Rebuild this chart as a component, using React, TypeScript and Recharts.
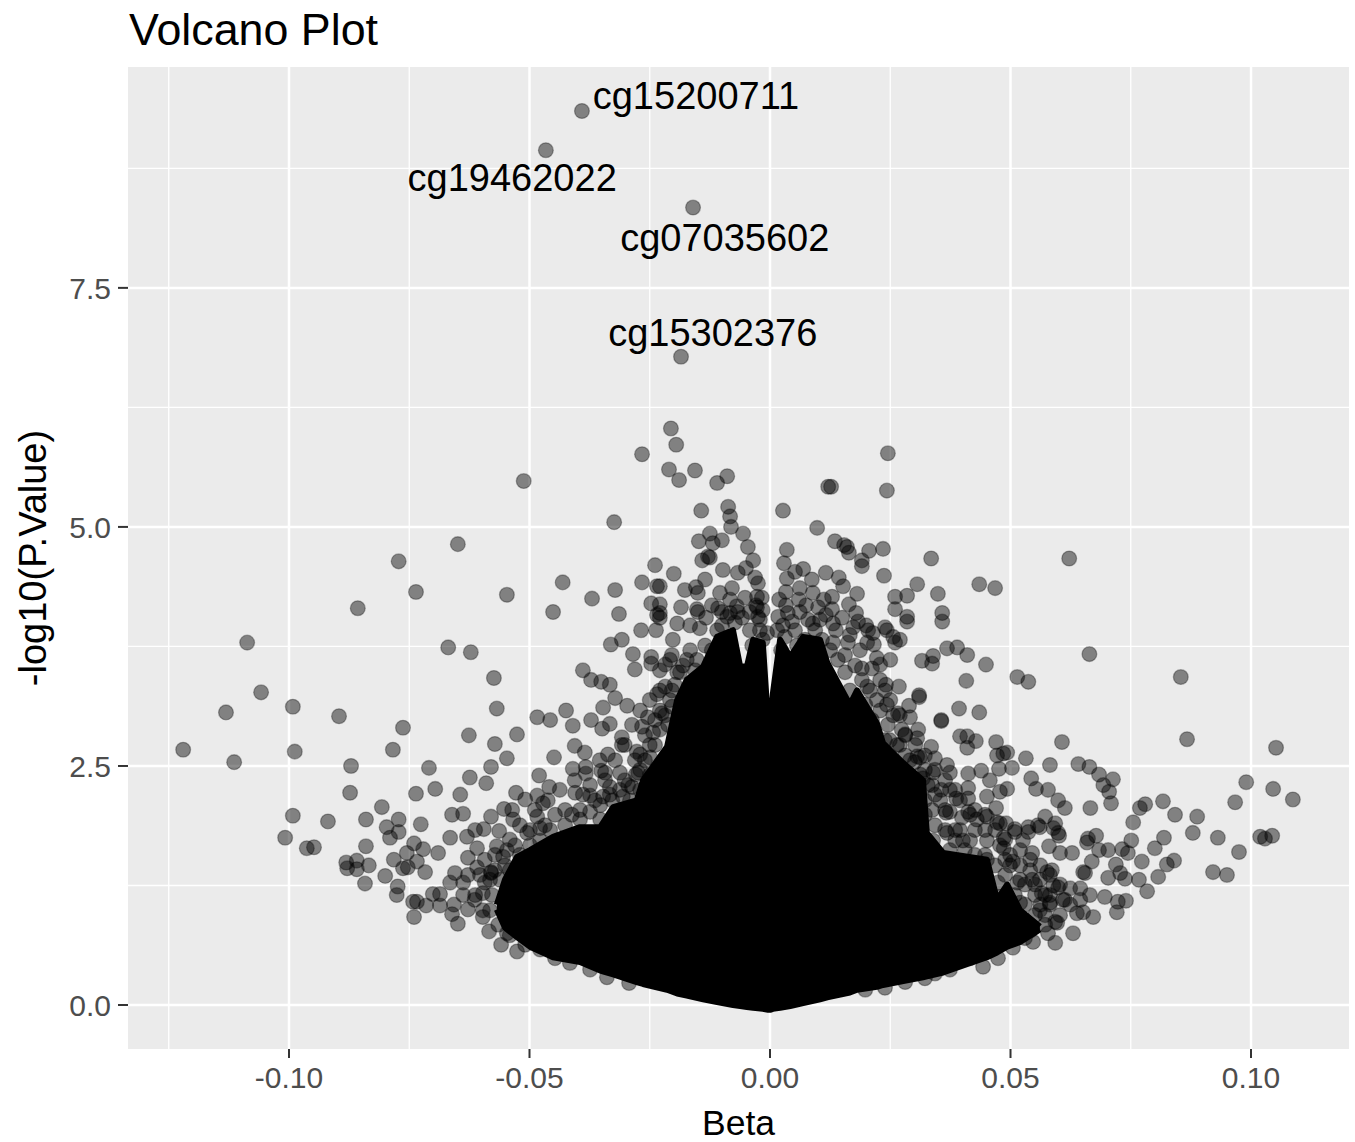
import {
  Area,
  CartesianGrid,
  ComposedChart,
  ReferenceDot,
  Scatter,
  XAxis,
  YAxis,
} from 'recharts';

const xTicks = [-0.1, -0.05, 0, 0.05, 0.1];
const yTicks = [0, 2.5, 5, 7.5];
const xMinor = [-0.125, -0.075, -0.025, 0.025, 0.075];
const yMinor = [1.25, 3.75, 6.25, 8.75];

const labelNames = ['cg15200711', 'cg19462022', 'cg07035602', 'cg15302376'];
const labelBeta = [-0.0154, -0.0536, -0.0094, -0.0119];
const labelLogP = [9.51, 8.65, 8.03, 7.03];

// solid black core where the points overlap completely: beta, lower, upper
const coreBeta = [-0.0568, -0.0551, -0.0526, -0.0499, -0.0451, -0.0395, -0.0353, -0.0326, -0.0277, -0.0264, -0.0214, -0.0193, -0.0173, -0.0139, -0.011, -0.0077, -0.0062, -0.0048, -0.0035, -0.0015, -0.0004, 0, 0.0006, 0.0021, 0.0042, 0.0069, 0.0104, 0.0119, 0.0166, 0.0181, 0.0222, 0.0235, 0.0277, 0.0318, 0.0326, 0.036, 0.0451, 0.0472, 0.0493, 0.052, 0.0561];
const coreLow = [1.0, 0.81, 0.71, 0.61, 0.5, 0.45, 0.36, 0.32, 0.24, 0.22, 0.16, 0.12, 0.1, 0.06, 0.03, 0, -0.01, -0.02, -0.03, -0.04, -0.05, -0.05, -0.04, -0.03, -0.01, 0.02, 0.06, 0.08, 0.13, 0.16, 0.19, 0.21, 0.25, 0.29, 0.3, 0.34, 0.5, 0.55, 0.61, 0.66, 0.79];
const coreHigh = [1.05, 1.31, 1.55, 1.62, 1.76, 1.86, 1.86, 2.07, 2.14, 2.35, 2.7, 3.19, 3.4, 3.54, 3.85, 3.92, 3.54, 3.54, 3.82, 3.79, 2.95, 2.88, 3.26, 3.82, 3.64, 3.85, 3.82, 3.58, 3.14, 3.29, 2.95, 2.74, 2.53, 2.35, 1.8, 1.59, 1.52, 1.1, 1.26, 0.99, 0.82];

const topPoints = [
  [-0.0391, 9.35], [-0.0466, 8.94], [-0.016, 8.34], [-0.0185, 6.78],
  [-0.0206, 6.03], [-0.0195, 5.86], [-0.0266, 5.76], [-0.021, 5.6], [-0.0189, 5.49], [-0.0156, 5.59],
  [-0.011, 5.46], [-0.0089, 5.53], [0.0245, 5.77], [0.0243, 5.38], [0.0121, 5.42], [0.0127, 5.42],
  [-0.0143, 5.17], [-0.0087, 5.21], [-0.0083, 5.11], [-0.0081, 5.0], [0.0027, 5.17], [-0.0324, 5.05],
  [0.0098, 4.99], [-0.0056, 4.93], [-0.0046, 4.79], [-0.0035, 4.65], [-0.0125, 4.93], [-0.0148, 4.85],
  [-0.0119, 4.83], [-0.01, 4.86], [-0.0141, 4.65], [-0.0125, 4.68], [-0.0129, 4.69], [0.0035, 4.76],
  [0.0029, 4.62], [0.0135, 4.85], [0.0154, 4.81], [0.016, 4.79], [0.0164, 4.73], [0.0206, 4.75],
  [0.0235, 4.77], [0.0191, 4.65], [0.0191, 4.59], [0.0237, 4.49], [0.0306, 4.4], [0.026, 4.27],
  [0.0285, 4.28], [0.026, 4.14], [0.0285, 4.06], [0.0285, 4.01], [0.0181, 4.3], [0.0164, 4.19],
  [0.0179, 4.1], [0.02, 3.97], [0.0152, 4.38], [0.0143, 4.47], [0.0116, 4.52], [0.0087, 4.45],
  [0.0069, 4.56], [0.0052, 4.53], [0.0035, 4.46], [0.0033, 4.32], [0.0089, 4.31], [0.0062, 4.36],
  [0.0112, 4.24], [0.0129, 4.27], [0.0129, 4.14], [0.006, 4.24], [0.0037, 4.1], [0.0017, 4.06],
  [0.0079, 4.03], [0.0104, 4.03], [0.0131, 3.99], [-0.02, 4.51], [-0.0229, 4.38], [-0.0177, 4.34],
  [-0.0154, 4.37], [-0.0135, 4.45], [-0.0098, 4.55], [-0.0067, 4.52], [-0.005, 4.57], [-0.0031, 4.47],
  [-0.0025, 4.41], [-0.0027, 4.27], [-0.0027, 4.16], [-0.0025, 4.06], [-0.0079, 4.36], [-0.0104, 4.31],
  [-0.015, 4.31], [-0.0152, 4.14], [-0.0185, 4.16], [-0.0229, 4.19], [-0.0229, 4.1], [-0.0229, 4.05],
  [-0.0193, 3.99], [-0.0146, 3.94], [-0.011, 3.92], [-0.0083, 4.1], [-0.0067, 4.11], [-0.0108, 4.15],
  [-0.0089, 4.06], [-0.0042, 3.92], [-0.0015, 3.82], [-0.0021, 4.03], [-0.0006, 3.89], [0.0015, 3.92],
  [0.0031, 3.85], [0.0052, 3.92], [0.0079, 3.79], [0.0131, 3.79], [0.0089, 3.99], [0.0173, 3.95],
  [0.0162, 3.79], [0.0239, 3.95], [0.0214, 3.89], [0.0202, 3.79], [0.0222, 3.63], [0.0191, 3.52],
  [0.0202, 3.33], [0.0222, 3.19], [0.0274, 2.88], [0.0312, 2.59], [0.0249, 2.77],
];

const farLeft = [
  [-0.1087, 3.79], [-0.1058, 3.27], [-0.1131, 3.06], [-0.0992, 3.12], [-0.0896, 3.02], [-0.0763, 2.9],
  [-0.0784, 2.67], [-0.122, 2.67], [-0.1114, 2.54], [-0.0988, 2.65], [-0.0871, 2.5], [-0.0873, 2.22],
  [-0.0736, 2.21], [-0.0709, 2.48], [-0.0807, 2.07], [-0.084, 1.94], [-0.0992, 1.98], [-0.0919, 1.92],
  [-0.1008, 1.75], [-0.0963, 1.64], [-0.0948, 1.65], [-0.084, 1.66], [-0.0881, 1.49], [-0.0879, 1.43],
  [-0.0859, 1.51], [-0.0859, 1.42], [-0.0834, 1.46], [-0.08, 1.35], [-0.0842, 1.27], [-0.0797, 1.86],
  [-0.0772, 1.94], [-0.079, 1.75], [-0.0772, 1.81], [-0.0726, 1.89], [-0.074, 1.69], [-0.0721, 1.63],
  [-0.0755, 1.59], [-0.0782, 1.52], [-0.0734, 1.5], [-0.0763, 1.43], [-0.0753, 1.44], [-0.0717, 1.39],
  [-0.0774, 1.24], [-0.0776, 1.15], [-0.0742, 1.08], [-0.0734, 1.08], [-0.0715, 1.04], [-0.074, 0.92],
  [-0.0649, 4.82], [-0.0736, 4.32], [-0.0772, 4.64], [-0.0857, 4.15], [-0.0512, 5.48],
];

const midLeft = [
  [-0.0547, 4.29], [-0.0431, 4.42], [-0.037, 4.25], [-0.0451, 4.11], [-0.0322, 4.34], [-0.0314, 4.09],
  [-0.0266, 4.42], [-0.0669, 3.74], [-0.0622, 3.69], [-0.0574, 3.42], [-0.0568, 3.1], [-0.0626, 2.82],
  [-0.0572, 2.73], [-0.0526, 2.83], [-0.0547, 2.58], [-0.0484, 3.01], [-0.0457, 2.98], [-0.0424, 3.08],
  [-0.0389, 3.5], [-0.0372, 3.4], [-0.0351, 3.38], [-0.0333, 3.35], [-0.0322, 3.21], [-0.0297, 3.13],
  [-0.0347, 3.11], [-0.0372, 2.98], [-0.041, 2.92], [-0.0333, 2.94], [-0.0349, 2.89], [-0.0406, 2.71],
  [-0.0449, 2.59], [-0.0385, 2.64], [-0.0337, 2.62], [-0.0308, 2.8], [-0.0266, 2.91], [-0.0277, 2.65],
  [-0.0331, 3.77], [-0.0308, 3.82], [-0.0285, 3.67], [-0.0281, 3.51], [-0.0247, 3.64], [-0.0247, 3.57],
  [-0.0268, 3.92], [-0.0237, 3.92], [-0.0247, 4.2], [-0.0235, 4.08], [-0.0239, 4.6], [-0.0235, 4.38],
  [-0.0229, 3.5], [-0.0193, 3.48], [-0.0173, 3.61], [-0.0152, 3.61], [-0.0204, 3.66], [-0.0202, 3.82],
  [-0.0218, 3.33], [-0.0235, 3.25], [-0.0204, 3.12], [-0.0225, 3.05], [-0.0254, 3.01], [-0.0243, 2.85],
  [-0.0308, 2.72], [-0.0249, 2.59], [-0.0274, 2.43], [-0.0312, 2.43], [-0.0333, 2.28], [-0.0287, 2.28],
  [-0.0306, 2.18], [-0.0347, 2.18], [-0.0343, 2.43],
];

const lowLeft = [
  [-0.0696, 2.26], [-0.0624, 2.38], [-0.059, 2.32], [-0.058, 2.49], [-0.0644, 2.2], [-0.0661, 1.99],
  [-0.0638, 2.0], [-0.0665, 1.75], [-0.069, 1.59], [-0.063, 1.76], [-0.0613, 1.83], [-0.0595, 1.84],
  [-0.0563, 1.82], [-0.058, 1.97], [-0.0553, 2.05], [-0.0528, 2.22], [-0.0509, 2.15], [-0.0484, 2.19],
  [-0.048, 2.4], [-0.0459, 2.28], [-0.0472, 2.11], [-0.0405, 2.22], [-0.041, 2.47], [-0.0383, 2.49],
  [-0.0383, 2.42], [-0.0351, 2.45], [-0.0389, 2.2], [-0.0374, 2.19], [-0.0536, 2.04], [-0.0534, 1.94],
  [-0.0484, 1.97], [-0.0478, 1.85], [-0.0505, 1.8], [-0.0568, 1.66], [-0.0609, 1.64], [-0.0628, 1.54],
  [-0.0609, 1.44], [-0.0547, 1.62], [-0.0555, 1.55], [-0.0655, 1.38], [-0.0628, 1.36], [-0.0665, 1.28],
  [-0.0638, 1.28], [-0.058, 1.39], [-0.058, 1.38], [-0.0593, 1.28], [-0.0701, 1.16], [-0.0686, 1.16],
  [-0.0638, 1.15], [-0.0613, 1.15], [-0.0597, 1.17], [-0.0686, 1.04], [-0.0657, 1.05], [-0.0661, 0.95],
  [-0.0628, 1.0], [-0.0597, 0.99], [-0.0597, 0.92], [-0.0649, 0.85], [-0.0584, 0.77], [-0.0559, 0.63],
  [-0.0526, 0.56], [-0.0547, 0.75], [-0.0339, 0.29], [-0.0293, 0.23],
];

const midRight = [
  [0.0335, 4.67], [0.0435, 4.4], [0.0468, 4.36], [0.0622, 4.67], [0.0349, 4.3], [0.0358, 4.1],
  [0.0358, 4.01], [0.0664, 3.67], [0.0256, 3.85], [0.0243, 3.92], [0.027, 3.82], [0.026, 3.79],
  [0.0368, 3.73], [0.0389, 3.74], [0.041, 3.66], [0.0339, 3.65], [0.0316, 3.6], [0.0337, 3.57],
  [0.0449, 3.56], [0.0408, 3.39], [0.0514, 3.43], [0.0537, 3.38], [0.0268, 3.33], [0.031, 3.22],
  [0.031, 3.24], [0.0393, 3.1], [0.0435, 3.06], [0.0356, 2.97], [0.0356, 2.98], [0.0291, 3.01],
  [0.0289, 3.13], [0.0241, 3.35], [0.0229, 3.4], [0.0243, 3.14], [0.0266, 3.05], [0.0308, 2.88],
  [0.0306, 2.79], [0.0281, 2.83], [0.0395, 2.81], [0.041, 2.81], [0.0428, 2.76], [0.041, 2.69],
  [0.047, 2.75], [0.0472, 2.61], [0.0493, 2.64], [0.0485, 2.63], [0.0607, 2.75], [0.0532, 2.58],
  [0.0476, 2.47], [0.0503, 2.48], [0.0582, 2.51], [0.0641, 2.52], [0.0664, 2.49], [0.0684, 2.41],
  [0.0713, 2.36], [0.0693, 2.3], [0.0705, 2.23], [0.0709, 2.11], [0.0666, 2.06], [0.0543, 2.37],
  [0.0553, 2.26], [0.0578, 2.25], [0.0599, 2.14], [0.0613, 2.06], [0.0457, 2.35], [0.0439, 2.45],
  [0.0412, 2.42], [0.0385, 2.25], [0.0412, 2.27], [0.0387, 2.16], [0.0412, 2.16], [0.0451, 2.18],
  [0.0478, 2.23], [0.0493, 2.26], [0.047, 2.06], [0.0356, 2.25], [0.0335, 2.7], [0.0343, 2.58],
  [0.0306, 2.6], [0.0368, 2.51], [0.0374, 2.43], [0.0318, 2.37], [0.0339, 2.43], [0.0337, 2.04],
  [0.0366, 2.01], [0.0399, 1.96], [0.0412, 2.02], [0.0451, 1.97], [0.043, 1.94], [0.0478, 1.9],
  [0.0491, 1.9], [0.0572, 1.97], [0.0593, 1.9], [0.0537, 1.86], [0.0509, 1.84], [0.0557, 1.88],
];

const farRight = [
  [0.0854, 3.43], [0.0867, 2.78], [0.1052, 2.69], [0.099, 2.33], [0.1046, 2.26], [0.1087, 2.15],
  [0.0967, 2.12], [0.0817, 2.13], [0.078, 2.1], [0.0769, 2.06], [0.0842, 1.99], [0.0888, 1.97],
  [0.0755, 1.91], [0.0879, 1.8], [0.0819, 1.75], [0.08, 1.64], [0.0931, 1.75], [0.1019, 1.76],
  [0.1029, 1.74], [0.1044, 1.77], [0.0975, 1.6], [0.0921, 1.39], [0.095, 1.36], [0.084, 1.51],
  [0.0825, 1.47], [0.0751, 1.72], [0.0744, 1.59], [0.0732, 1.63], [0.0773, 1.5], [0.0719, 1.47],
  [0.0807, 1.34], [0.0767, 1.31], [0.0784, 1.19], [0.0738, 1.32], [0.0728, 1.38], [0.0703, 1.33],
  [0.074, 1.09], [0.0721, 0.97], [0.0723, 1.08], [0.0696, 1.13], [0.0665, 1.15], [0.0672, 0.92],
  [0.063, 0.75], [0.0593, 0.65], [0.0613, 1.1], [0.0624, 1.22], [0.0645, 1.22], [0.0651, 1.39],
  [0.0669, 1.5], [0.0678, 1.77], [0.0659, 1.7], [0.0628, 1.59], [0.0603, 1.59], [0.0684, 1.62],
  [0.0703, 1.62], [0.0599, 1.8], [0.0589, 1.85], [0.0586, 1.41], [0.0599, 1.23], [0.0597, 0.86],
  [0.0651, 0.97], [0.0582, 1.07],
];

const lowRight = [
  [0.0547, 0.66], [0.0578, 0.75], [0.0526, 0.82], [0.0561, 0.99], [0.0593, 0.87], [0.0609, 1.1],
  [0.0638, 0.96], [0.0443, 0.4], [0.0474, 0.49], [0.0505, 0.6], [0.0545, 1.31], [0.0514, 1.28],
  [0.0576, 1.39], [0.0589, 1.25], [0.0655, 1.38], [0.058, 1.66], [0.0545, 1.59], [0.0526, 1.72],
  [0.0509, 1.81], [0.0486, 1.75], [0.0486, 1.64], [0.0472, 1.91], [0.0561, 1.86], [0.0601, 1.77],
  [0.0661, 1.74], [0.0537, 1.81], [0.0451, 1.72], [0.0401, 1.72], [0.0505, 1.5], [0.0474, 1.28],
  [0.0478, 1.13], [0.052, 1.07], [0.0451, 1.52], [0.042, 1.44], [0.0339, 1.72], [0.0368, 1.8],
];

// points hugging the edge of the solid core
const coreEdgeLeft = [
  [-0.0541, 1.41], [-0.0561, 1.31], [-0.0578, 1.15], [-0.0582, 0.99], [-0.0565, 0.84], [-0.0541, 0.73],
  [-0.0509, 0.63], [-0.0478, 0.58], [-0.0447, 0.49], [-0.0416, 0.44], [-0.0374, 0.37], [-0.052, 1.57],
  [-0.0499, 1.67], [-0.0478, 1.72], [-0.0457, 1.83], [-0.0447, 1.99], [-0.0426, 1.88], [-0.0412, 1.99],
  [-0.0395, 1.94], [-0.0374, 2.02], [-0.0353, 2.09], [-0.0328, 2.14], [-0.0353, 1.94], [-0.0312, 2.25],
  [-0.0295, 2.3], [-0.0279, 2.41], [-0.026, 2.56], [-0.0239, 2.72], [-0.0229, 2.88], [-0.0218, 3.03],
  [-0.0208, 3.19], [-0.0198, 3.35], [-0.0187, 3.48], [-0.0156, 3.5], [-0.0249, 2.41], [-0.027, 2.25],
  [-0.0291, 2.14],
];

const coreEdgeTop = [
  [-0.0181, 3.55], [-0.0166, 3.71], [-0.0135, 3.76], [-0.0121, 3.71], [-0.01, 3.97], [-0.0073, 4.0],
  [-0.0087, 3.82], [-0.0037, 3.76], [-0.0027, 3.66], [-0.0021, 3.92], [0.0023, 3.71], [0.0031, 3.61],
  [0.0027, 3.97], [0.0056, 3.76], [0.0073, 3.82], [0.0087, 3.71], [0.0108, 3.82], [0.0094, 3.92],
  [0.0125, 3.71], [0.0141, 3.61], [0.0156, 3.48], [0.0177, 3.55], [0.0191, 3.4], [0.0166, 3.29],
  [0.0156, 3.66], [0.0208, 3.29], [0.0198, 3.14], [0.0229, 3.08], [0.0212, 2.98], [0.0245, 2.93],
  [0.0239, 2.77], [0.0264, 2.72], [0.0281, 2.61], [0.0301, 2.54],
];

const coreEdgeRight = [
  [0.0322, 2.46], [0.0328, 2.3], [0.0343, 2.2], [0.0322, 2.14], [0.0322, 1.99], [0.0343, 1.88],
  [0.0364, 1.83], [0.0385, 1.72], [0.0374, 1.62], [0.0405, 1.62], [0.0426, 1.57], [0.0447, 1.57],
  [0.0468, 1.46], [0.0489, 1.36], [0.0509, 1.15], [0.053, 1.05], [0.0551, 0.94], [0.0499, 1.05],
  [0.0478, 0.84], [0.0509, 0.84], [0.0541, 0.78], [0.053, 0.7], [0.0572, 0.84], [0.0489, 0.68],
  [0.0447, 0.58], [0.0416, 0.49], [0.0374, 0.37], [0.0343, 0.33], [0.0322, 0.28], [0.0281, 0.24],
  [0.0239, 0.18], [0.0198, 0.16], [0.0374, 2.02], [0.0385, 1.83], [0.0426, 1.83], [0.0447, 1.83],
  [0.0416, 1.72], [0.0478, 1.67], [0.0499, 1.57], [0.052, 1.46], [0.0541, 1.41], [0.0561, 1.31],
  [0.0565, 1.17], [0.0582, 1.15], [0.0551, 1.15], [0.053, 1.26], [0.0499, 1.46],
];

// second layer: the dense fringe around the core
const fringeTop = [
  [-0.0166, 3.97], [-0.015, 4.11], [-0.0133, 4.05], [-0.0121, 4.18], [-0.01, 4.11], [-0.0083, 4.24],
  [-0.0069, 4.17], [-0.0052, 4.26], [-0.0042, 4.11], [-0.0058, 4.05], [-0.0029, 4.18], [-0.0017, 4.26],
  [-0.0015, 4.13], [0.0019, 4.24], [0.0033, 4.18], [0.0046, 4.01], [0.0062, 4.11], [0.0075, 4.18],
  [0.01, 4.16], [0.0116, 4.08], [0.0137, 3.92], [0.015, 4.05], [0.0166, 3.87], [0.0183, 4.01],
  [0.0204, 3.92], [0.0187, 3.71], [0.0216, 3.77], [0.0229, 3.56], [0.025, 3.61], [0.0212, 3.52],
];

const fringeLeft = [
  [-0.0208, 3.61], [-0.0229, 3.29], [-0.025, 3.19], [-0.027, 3.08], [-0.0239, 2.98], [-0.026, 2.82],
  [-0.0287, 2.93], [-0.0302, 2.72], [-0.0281, 2.56], [-0.0322, 2.56], [-0.0343, 2.35], [-0.0374, 2.3],
  [-0.0354, 2.56], [-0.0406, 2.35], [-0.0437, 2.25], [-0.0462, 2.14], [-0.0489, 2.04], [-0.052, 1.88],
  [-0.0541, 1.73], [-0.0572, 1.57], [-0.0593, 1.52], [-0.0603, 1.36], [-0.0582, 1.31], [-0.0614, 1.1],
  [-0.027, 2.46], [-0.0302, 2.35], [-0.0333, 2.2], [-0.0364, 2.14], [-0.0395, 2.04], [-0.0426, 2.04],
  [-0.0468, 1.88], [-0.0499, 1.83], [-0.053, 1.67], [-0.0551, 1.46], [-0.0572, 1.41], [-0.0229, 3.08],
  [-0.0212, 2.93], [-0.025, 2.72], [-0.027, 2.62], [-0.0204, 3.29], [-0.0218, 3.56],
];

const fringeRight = [
  [0.025, 3.19], [0.027, 3.03], [0.0239, 3.29], [0.0281, 2.82], [0.0302, 2.72], [0.0322, 2.61],
  [0.0343, 2.46], [0.0364, 2.35], [0.0354, 2.14], [0.0374, 2.25], [0.0395, 2.14], [0.0426, 2.04],
  [0.0447, 1.99], [0.0468, 1.83], [0.0489, 1.73], [0.052, 1.62], [0.0541, 1.52], [0.0562, 1.46],
  [0.0582, 1.36], [0.0603, 1.26], [0.0624, 1.05], [0.0603, 0.94], [0.0645, 1.1], [0.0562, 1.05],
  [0.0572, 0.94], [0.0256, 3.03], [0.027, 2.72], [0.0291, 2.56], [0.0312, 2.41], [0.0337, 2.3],
  [0.0364, 2.04], [0.0395, 1.83], [0.0416, 1.99], [0.0489, 1.52], [0.052, 1.31], [0.0551, 1.26],
  [0.0572, 1.15], [0.0582, 1.05],
];

const points = [
  ...topPoints,
  ...farLeft,
  ...midLeft,
  ...lowLeft,
  ...midRight,
  ...farRight,
  ...lowRight,
  ...coreEdgeLeft,
  ...coreEdgeTop,
  ...coreEdgeRight,
  ...fringeTop,
  ...fringeLeft,
  ...fringeRight,
].map(([x, y]) => ({ x, y }));
const core = coreBeta.map((x, i) => ({ x, band: [coreLow[i], coreHigh[i]] }));

const Dot = (props: any) => (
  <circle
    cx={props.cx}
    cy={props.cy}
    r={7.4}
    fill="#000"
    fillOpacity={0.45}
    stroke="#000"
    strokeOpacity={0.3}
    strokeWidth={1.3}
  />
);

const tickStyle = { fontSize: 30, fill: '#4D4D4D', fontFamily: 'Liberation Sans' };
const titleStyle = { fontSize: 38, fill: '#000', fontFamily: 'Liberation Sans' };

export default function App() {
  return (
    <div style={{ position: 'absolute', left: 0, top: 0, width: 1355, height: 1142, background: '#fff' }}>
      <div
        style={{
          position: 'absolute',
          left: 129,
          top: 4,
          fontSize: 44.8,
          lineHeight: '50px',
          fontFamily: 'Liberation Sans',
          color: '#000',
        }}
      >
        Volcano Plot
      </div>
      <ComposedChart
        width={1355}
        height={1142}
        data={core}
        margin={{ top: 67, right: 6, bottom: 0, left: 0 }}
      >
        <CartesianGrid
          fill="#EBEBEB"
          stroke="#fff"
          strokeWidth={1.3}
          horizontalValues={yMinor}
          verticalValues={xMinor}
        />
        <CartesianGrid stroke="#fff" strokeWidth={2.5} horizontalValues={yTicks} verticalValues={xTicks} />
        <XAxis
          type="number"
          dataKey="x"
          domain={[-0.13347, 0.12037]}
          ticks={xTicks}
          tickFormatter={(v: number) => v.toFixed(2)}
          tick={tickStyle}
          tickSize={9}
          tickMargin={9}
          axisLine={false}
          tickLine={{ stroke: '#333', strokeWidth: 2 }}
          height={93}
          allowDataOverflow
          label={{ value: 'Beta', position: 'insideBottom', offset: 7, style: { ...titleStyle, fontSize: 35.5 } }}
        />
        <YAxis
          type="number"
          dataKey="y"
          domain={[-0.46, 9.81]}
          ticks={yTicks}
          tickFormatter={(v: number) => v.toFixed(1)}
          tick={tickStyle}
          tickSize={10}
          tickMargin={7}
          axisLine={false}
          tickLine={{ stroke: '#333', strokeWidth: 2 }}
          width={128}
          allowDataOverflow
          label={{
            value: '-log10(P.Value)',
            angle: -90,
            position: 'insideLeft',
            offset: 33,
            style: { ...titleStyle, textAnchor: 'middle' },
          }}
        />
        <Area
          dataKey="band"
          type="linear"
          fill="#000"
          fillOpacity={1}
          stroke="#000"
          strokeWidth={6}
          strokeLinejoin="round"
          isAnimationActive={false}
          dot={false}
          activeDot={false}
        />
        <Scatter data={points} shape={Dot} isAnimationActive={false} />
        {labelNames.map((name, i) => (
          <ReferenceDot
            key={name}
            x={labelBeta[i]}
            y={labelLogP[i]}
            r={0}
            stroke="none"
            label={{ value: name, position: 'center', style: titleStyle }}
          />
        ))}
      </ComposedChart>
    </div>
  );
}
